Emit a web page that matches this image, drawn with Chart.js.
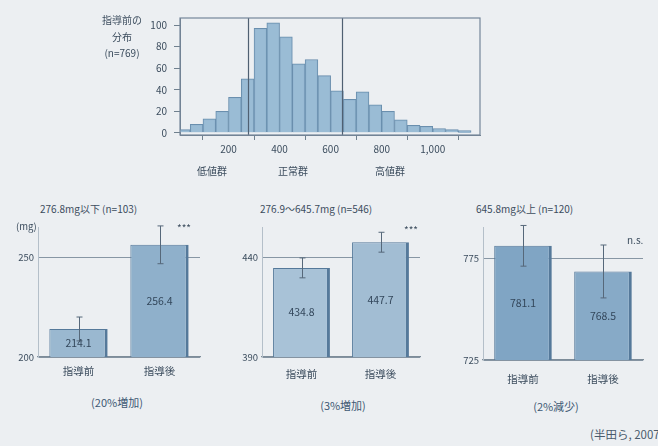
<!DOCTYPE html>
<html><head><meta charset="utf-8">
<script src="https://cdn.jsdelivr.net/npm/chart.js@4/dist/chart.umd.min.js"></script>
<style>
html,body{margin:0;padding:0;background:#eceff2;}
body{width:658px;height:446px;position:relative;overflow:hidden;font-family:"Noto Sans CJK JP","Noto Sans",sans-serif;color:#3c4d5e;}
canvas{position:absolute;}
.t{position:absolute;font-size:10px;white-space:nowrap;line-height:1;}
.c{transform:translateX(-50%);}
</style></head><body>
<canvas id="hist" width="355" height="165" style="left:130px;top:5px;width:355px;height:165px"></canvas>
<canvas id="p1" width="210" height="165" style="left:0px;top:218px;width:210px;height:165px"></canvas>
<canvas id="p2" width="208" height="167" style="left:222px;top:218px;width:208px;height:167px"></canvas>
<canvas id="p3" width="215" height="172" style="left:440px;top:218px;width:215px;height:172px"></canvas>
<div id="txt"></div>
<script>
// ---- data ----
const histBinStart = [0,50,100,150,200,250,300,350,400,450,500,550,600,650,700,750,800,850,900,950,1000,1050,1100];
const histCounts   = [3,8,13,20,33,50,97,102,89,64,68,53,39,31,38,26,20,12,7,6,4,3,2];
const histXTicks = [200,400,600,800,1000];
const histXTickLabels = ["200","400","600","800","1,000"];
const histYTicks = [0,20,40,60,80,100];
const groupBounds = [276.85,645.85];
const groupNames = ["低値群","正常群","高値群"];
const histLabel = ["指導前の","分布","(n=769)"];

const phases = ["指導前","指導後"];
const lowMeans  = [214.1,256.4], lowErr  = [6,9.5],  lowTicks  = [200,250];
const midMeans  = [434.8,447.7], midErr  = [5,5],    midTicks  = [390,440];
const highMeans = [781.1,768.5], highErr = [10,13],  highTicks = [725,775];
const panelTitles  = ["276.8mg以下 (n=103)","276.9〜645.7mg (n=546)","645.8mg以上 (n=120)"];
const changeLabels = ["(20%増加)","(3%増加)","(2%減少)"];
const sigLabels    = ["***","***","n.s."];
const unitLabel = "(mg)";
const citation = "(半田ら, 2007)";

// ---- setup ----
const F = '"Noto Sans CJK JP","Noto Sans",sans-serif';
Chart.defaults.font.family = F;
Chart.defaults.color = '#3c4d5e';
Chart.defaults.animation = false;

const framePlugin = {id:'frame', afterDraw(c){const a=c.chartArea,x=c.ctx;x.save();x.strokeStyle='#75869a';x.lineWidth=1.2;x.strokeRect(a.left,a.top,a.right-a.left,a.bottom-a.top);x.restore();}};
const boundPlugin = {id:'bounds', afterDatasetsDraw(c){const a=c.chartArea,x=c.ctx,s=c.scales.x;x.save();x.strokeStyle='#4f6072';x.lineWidth=1.2;
  groupBounds.forEach(v=>{const p=Math.round(s.getPixelForValue(v))+0.5;x.beginPath();x.moveTo(p,a.top);x.lineTo(p,a.bottom);x.stroke();});x.restore();}};

new Chart(document.getElementById('hist'), {
  type:'bar',
  data:{datasets:[{data:histBinStart.map((s,i)=>({x:s+25,y:histCounts[i]})),
    backgroundColor:'rgba(150,184,211,0.95)', borderColor:'#6a8fae', borderWidth:1,
    barPercentage:1, categoryPercentage:1, grouped:false, borderSkipped:'bottom'}]},
  options:{responsive:false, animation:false, events:[],
    layout:{padding:{top:10,right:5,left:0,bottom:0}},
    plugins:{legend:{display:false},tooltip:{enabled:false}},
    scales:{
      x:{type:'linear', offset:false, min:10, max:1185,
        afterBuildTicks:s=>{s.ticks=histXTicks.map(v=>({value:v}));},
        afterFit:s=>{s.height=35;},
        ticks:{callback:(v,i)=>histXTickLabels[i], font:{size:10}, padding:3, maxRotation:0, autoSkip:false},
        grid:{drawOnChartArea:false, tickLength:5, color:'#6f808e'}, border:{color:'#6f808e'}},
      y:{min:-2, max:106.5,
        afterBuildTicks:s=>{s.ticks=histYTicks.map(v=>({value:v}));},
        afterFit:s=>{s.width=50;},
        ticks:{font:{size:10}, padding:7},
        grid:{drawOnChartArea:false, tickLength:6, color:'#6f808e'}, border:{color:'#6f808e'}}
    }},
  plugins:[framePlugin, boundPlugin]
});

function panel(id, means, errs, ticks, min, max, colors, yw, padR, padT, xh, xpad){
  const errPlugin = {id:'err'+id, afterDraw(c){
    const meta=c.getDatasetMeta(0), y=c.scales.y, x=c.ctx; x.save();
    meta.data.forEach((b,i)=>{
      const px=Math.round(b.x)+0.5, t=y.getPixelForValue(means[i]+errs[i]), bt=y.getPixelForValue(means[i]-errs[i]);
      x.strokeStyle='#56687a'; x.lineWidth=1;
      x.beginPath(); x.moveTo(px,t); x.lineTo(px,bt); x.moveTo(px-3,t); x.lineTo(px+3,t); x.moveTo(px-3,bt); x.lineTo(px+3,bt); x.stroke();
      const top=y.getPixelForValue(means[i]), bottom=y.getPixelForValue(min);
      x.fillStyle='#33475b'; x.font='10.5px "Noto Sans CJK JP", sans-serif'; x.textAlign='center'; x.textBaseline='middle';
      x.fillText(String(means[i].toFixed(1)), b.x, (top+bottom)/2);
    });
    x.restore();}};
  new Chart(document.getElementById(id), {
    type:'bar',
    data:{labels:phases, datasets:[{data:means, backgroundColor:colors,
      borderColor:'#55799a', borderWidth:{top:1,left:1,right:3,bottom:0}, borderSkipped:'bottom',
      barPercentage:0.72, categoryPercentage:1}]},
    options:{responsive:false, animation:false, events:[],
      layout:{padding:{top:padT,right:padR,left:0,bottom:0}},
      plugins:{legend:{display:false},tooltip:{enabled:false}},
      scales:{
        x:{afterFit:s=>{s.height=xh;}, grid:{display:false, drawTicks:false},
          border:{display:true,color:'#7d8c99',width:1.2},
          ticks:{font:{size:10.5}, padding:xpad, color:'#3c4d5e'}},
        y:{min:min, max:max,
          afterBuildTicks:s=>{s.ticks=ticks.map(v=>({value:v}));},
          afterFit:s=>{s.width=yw;},
          grid:{color:'#8796a4', lineWidth:1, drawTicks:false},
          border:{display:true,color:'#b4bfc9'},
          ticks:{font:{size:9.5}, padding:4}}
      }},
    plugins:[errPlugin]
  });
}
panel('p1', lowMeans,  lowErr,  lowTicks,  200, 265, ['#9ab8d0','#8fb0cb'], 38, 10, 7, 26, 8);
panel('p2', midMeans,  midErr,  midTicks,  390, 455, ['#a8c2d7','#a2bdd3'], 40, 10, 7, 28, 11);
panel('p3', highMeans, highErr, highTicks, 725, 790, ['#80a5c4','#87aac7'], 43, 12, 7, 30, 13);

// ---- text ----
const T = document.getElementById('txt');
function add(s, x, y, cls, extra){const d=document.createElement('div');d.className='t '+(cls||'');d.textContent=s;d.style.left=x+'px';d.style.top=y+'px';if(extra)Object.assign(d.style,extra);T.appendChild(d);}
add(histLabel[0],122,15,'c'); add(histLabel[1],122,32,'c'); add(histLabel[2],122,48,'c');
add(groupNames[0],212,166,'c'); add(groupNames[1],293,166,'c'); add(groupNames[2],390,166,'c');
add(panelTitles[0],40,204); add(panelTitles[1],260,204); add(panelTitles[2],476,204);
add(unitLabel,16,222,'',{fontSize:'9.5px'});
add(sigLabels[0],177,223); add(sigLabels[1],404,225); add(sigLabels[2],627,235);
add(changeLabels[0],117,397,'c',{fontSize:'11px',color:'#3d5873'});
add(changeLabels[1],343,400,'c',{fontSize:'11px',color:'#3d5873'});
add(changeLabels[2],556,401,'c',{fontSize:'11px',color:'#3d5873'});
add(citation,590,429,'',{fontSize:'11.5px',color:'#4a5b6c'});
</script>
</body></html>
